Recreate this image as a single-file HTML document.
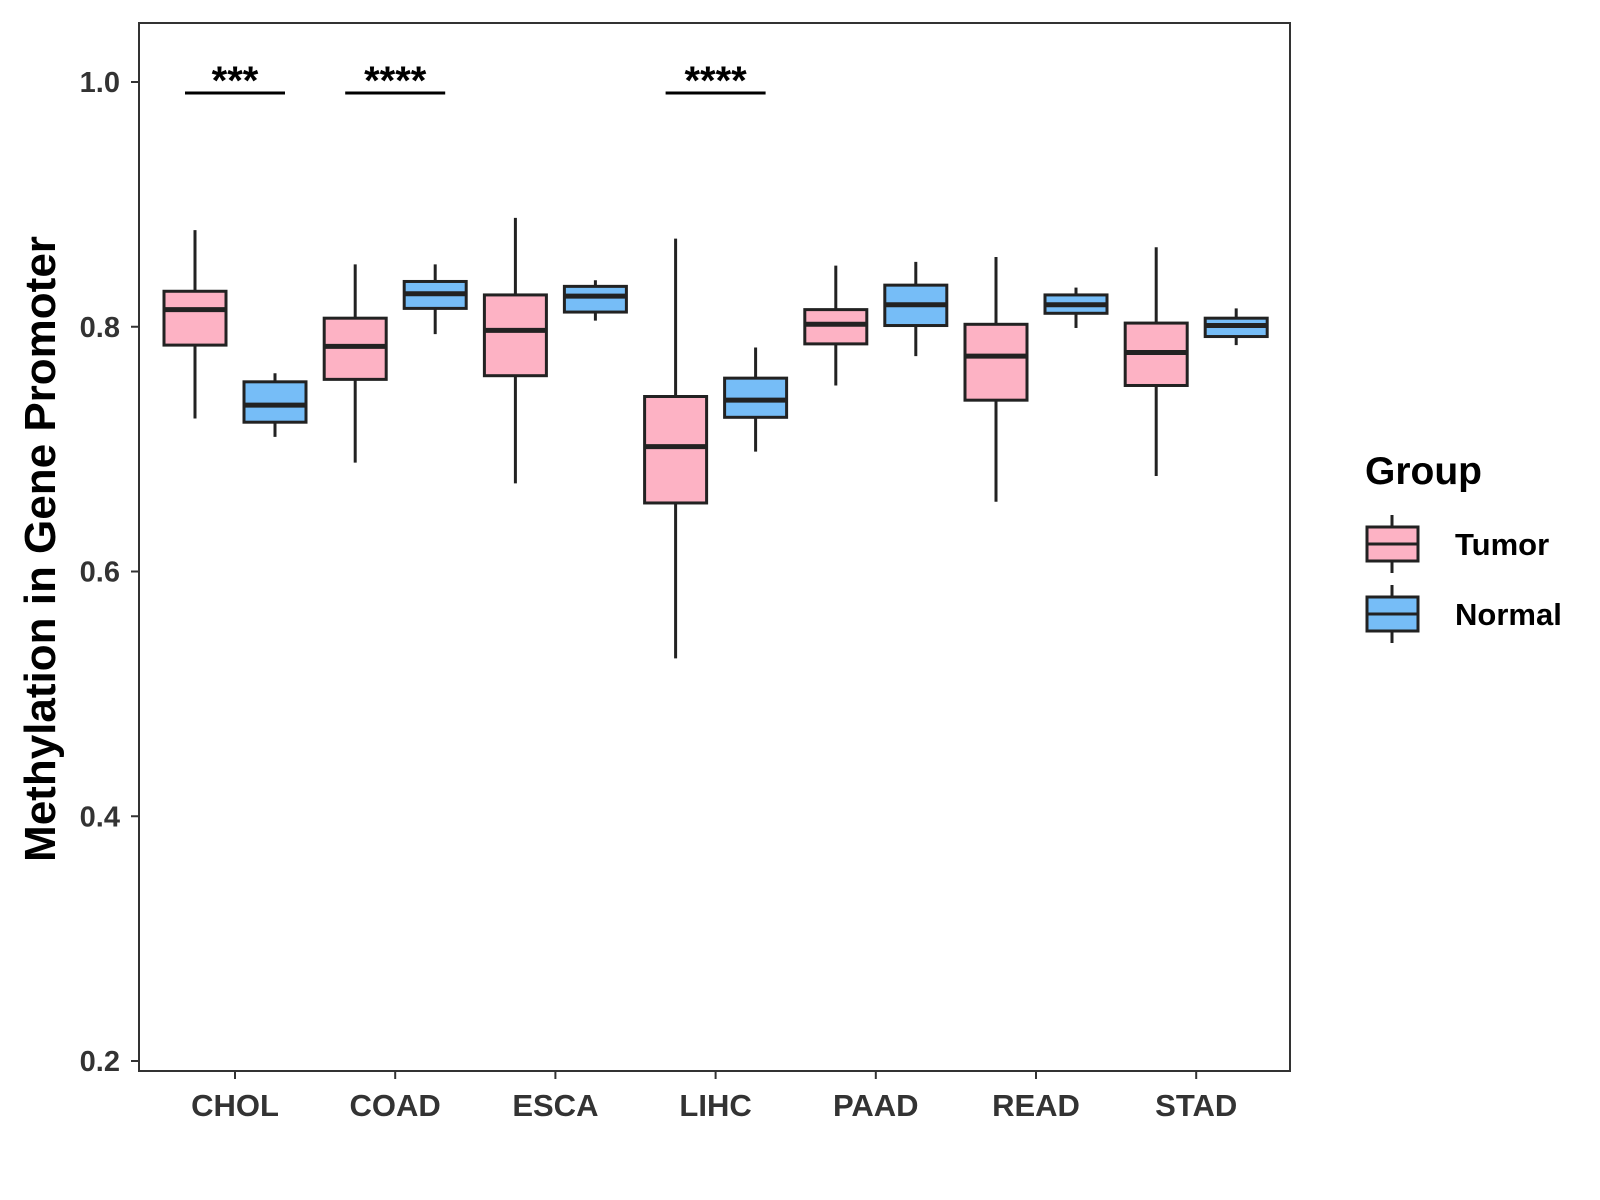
<!DOCTYPE html>
<html><head><meta charset="utf-8"><style>
body{margin:0;background:#fff}
svg{display:block;font-family:"Liberation Sans",Arial,sans-serif;font-weight:bold}
</style></head><body>
<svg id="chart" width="1600" height="1200" viewBox="0 0 1600 1200">
<rect x="139" y="23" width="1151" height="1048" fill="#fff" stroke="#333" stroke-width="2"/>
<g id="g"></g>
<text x="0" y="0" transform="translate(55,549) rotate(-90)" text-anchor="middle" font-size="44" fill="#000">Methylation in Gene Promoter</text>
<text x="1365" y="484" font-size="39" fill="#000">Group</text>
</svg>
<script>
const categories=["CHOL","COAD","ESCA","LIHC","PAAD","READ","STAD"];
const tumorStats=[[0.725,0.785,0.814,0.829,0.879],[0.689,0.757,0.784,0.807,0.851],[0.672,0.760,0.797,0.826,0.889],[0.529,0.656,0.702,0.743,0.872],[0.752,0.786,0.802,0.814,0.850],[0.657,0.740,0.776,0.802,0.857],[0.678,0.752,0.779,0.803,0.865]];
const normalStats=[[0.710,0.722,0.736,0.755,0.762],[0.794,0.815,0.827,0.837,0.851],[0.805,0.812,0.825,0.833,0.838],[0.698,0.726,0.740,0.758,0.783],[0.776,0.801,0.818,0.834,0.853],[0.799,0.811,0.818,0.826,0.832],[0.785,0.792,0.801,0.807,0.815]];
const yTicks=[0.2,0.4,0.6,0.8,1.0];
const sigCats=["CHOL","COAD","LIHC"];
const sigLabels=["***","****","****"];
const NS="http://www.w3.org/2000/svg";
const g=document.getElementById('g');
const y=v=>82+(1-v)*1223.75;
const x=i=>235+160.2*i;
function el(t,a){const e=document.createElementNS(NS,t);for(const k in a)e.setAttribute(k,a[k]);g.appendChild(e);return e;}
yTicks.forEach(v=>{
 const t=el('line',{x1:131,x2:139,y1:y(v),y2:y(v),stroke:'#333','stroke-width':2});
 
 
 const l=el('text',{x:120,y:y(v)+10,'text-anchor':'end','font-size':29,fill:'#333'});
 l.textContent=v.toFixed(1);
 
 
});
categories.forEach((c,i)=>{
 const t=el('line',{x1:x(i),x2:x(i),y1:1071,y2:1079,stroke:'#333','stroke-width':2});
 
 
 const l=el('text',{x:x(i),y:1116,'text-anchor':'middle','font-size':31,fill:'#333'});
 l.textContent=c;
 
 
});
function box(cx,s,fill,name){
 const w=31;
 const wh=el('line',{x1:cx,x2:cx,y1:y(s[0]),y2:y(s[4]),stroke:'#222','stroke-width':3});
 
 
 const r=el('rect',{x:cx-w,y:y(s[3]),width:2*w,height:y(s[1])-y(s[3]),fill:fill,stroke:'#222','stroke-width':3});
 
 
 const m=el('line',{x1:cx-w,x2:cx+w,y1:y(s[2]),y2:y(s[2]),stroke:'#222','stroke-width':5});
 
 
}
categories.forEach((c,i)=>{
 box(x(i)-40,tumorStats[i],'#FDB2C4','tumor-'+c.toLowerCase());
 box(x(i)+40,normalStats[i],'#76BDF7','normal-'+c.toLowerCase());
});
sigCats.forEach((c,k)=>{
 const i=categories.indexOf(c);
 const ln=el('line',{x1:x(i)-50,x2:x(i)+50,y1:93,y2:93,stroke:'#000','stroke-width':3});
 
 
 const t=el('text',{x:x(i),y:94,'text-anchor':'middle','font-size':40,fill:'#000'});
 t.textContent=sigLabels[k];
 
 
});
[["Tumor",'#FDB2C4',544],["Normal",'#76BDF7',614]].forEach(([n,f,cy])=>{
 const l=el('line',{x1:1392,x2:1392,y1:cy-29,y2:cy+29,stroke:'#222','stroke-width':3});
 
 
 const r=el('rect',{x:1367,y:cy-17,width:51,height:34,fill:f,stroke:'#222','stroke-width':3});
 
 
 const m=el('line',{x1:1367,x2:1418,y1:cy,y2:cy,stroke:'#222','stroke-width':3});
 
 
 const t=el('text',{x:1455,y:cy+11,'font-size':31,fill:'#000'});
 t.textContent=n;
 
 
});
</script>
</body></html>
